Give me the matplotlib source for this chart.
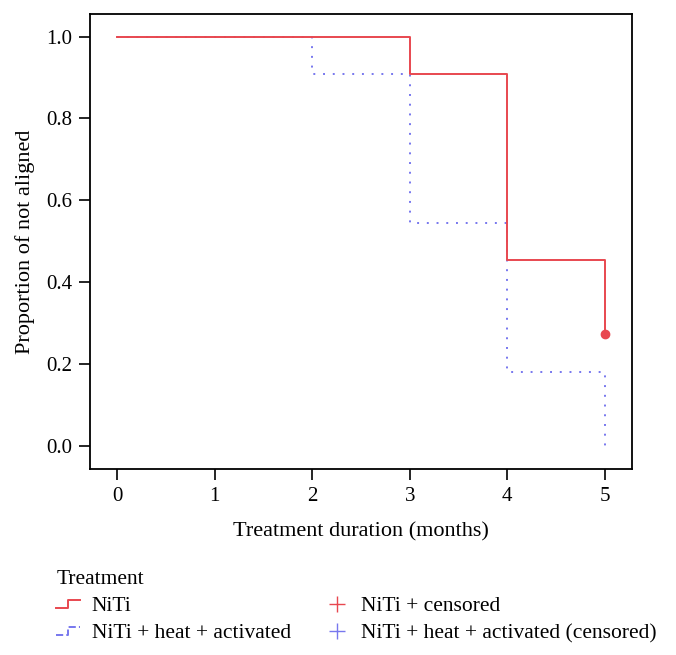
import numpy as np
import matplotlib.pyplot as plt
from matplotlib.lines import Line2D
from matplotlib.legend_handler import HandlerBase

## data
months = [0, 1, 2, 3, 4, 5]
niti_t = [0, 3, 4, 5]
niti_s = [1.0, 0.909, 0.455, 0.273]
heat_t = [0, 2, 3, 4, 5]
heat_s = [1.0, 0.909, 0.545, 0.182, 0.0]
yticks = [0.0, 0.2, 0.4, 0.6, 0.8, 1.0]

## style
red = "#e8474f"
blue = "#7777ee"
plt.rcParams["font.family"] = ["Liberation Serif", "DejaVu Serif"]
plt.rcParams["font.size"] = 15


class StepHandler(HandlerBase):
    # small step symbol for the legend
    def create_artists(self, legend, orig, xd, yd, w, h, fs, trans):
        xs = [xd, xd + w * 0.5, xd + w * 0.5, xd + w]
        ys = [yd + h * 0.2, yd + h * 0.2, yd + h * 0.75, yd + h * 0.75]
        ln = Line2D(xs, ys, color=orig.get_color(), lw=orig.get_linewidth(),
                    linestyle=orig.get_linestyle(), transform=trans)
        return [ln]


fig = plt.figure(figsize=(6.76, 6.55), dpi=100)
ax = fig.add_axes([90 / 676, 1 - 469 / 655, 542 / 676, 455 / 655])

# curves
ax.step(heat_t, heat_s, where="post", color=blue, lw=1.4, linestyle=(0, (1, 4)))
ax.step(niti_t, niti_s, where="post", color=red, lw=1.4)
ax.plot([niti_t[-1]], [niti_s[-1]], "o", color=red, ms=6)

ax.set_xlim(-0.28, 5.28)
ax.set_ylim(-0.056, 1.055)
ax.set_xticks(months)
ax.set_yticks(yticks)
ax.set_yticklabels(["%.1f" % v for v in yticks])
ax.tick_params(direction="out", length=8, width=1.2, pad=5, labelsize=15)
for s in ax.spines.values():
    s.set_linewidth(1.3)
ax.set_xlabel("Treatment duration (months)", fontsize=16, labelpad=12)
ax.set_ylabel("Proportion of not aligned", fontsize=16, labelpad=8)

# legend
h_niti = Line2D([], [], color=red, lw=1.4)
h_heat = Line2D([], [], color=blue, lw=1.4, linestyle=(0, (1, 3)))
h_cn = Line2D([], [], color=red, marker="+", ms=12, lw=0)
h_ch = Line2D([], [], color=blue, marker="+", ms=12, lw=0)
leg = fig.legend([h_niti, h_heat, h_cn, h_ch],
                 ["NiTi", "NiTi + heat + activated", "NiTi + censored",
                  "NiTi + heat + activated (censored)"],
                 handler_map={h_niti: StepHandler(), h_heat: StepHandler()},
                 ncol=2, loc="upper left", bbox_to_anchor=(52 / 676, 1 - 566 / 655),
                 title="Treatment", frameon=False, fontsize=15.5,
                 handlelength=1.1, handletextpad=0.55, columnspacing=1.6,
                 labelspacing=0.32, borderpad=0.2, borderaxespad=0)
leg._legend_box.align = "left"
leg.get_title().set_fontsize(15.5)

fig.savefig("out.png", dpi=100)
